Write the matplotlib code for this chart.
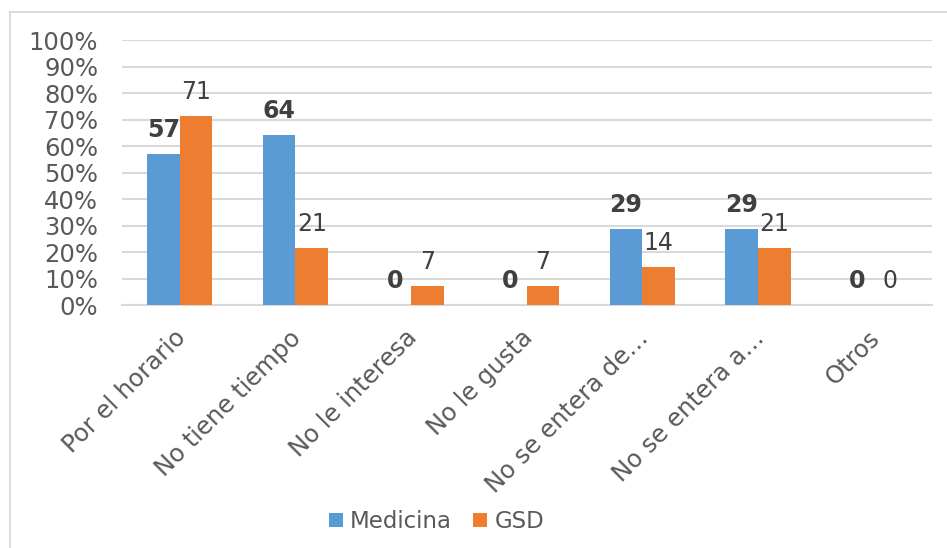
import matplotlib
matplotlib.use("Agg")
import matplotlib.pyplot as plt
import matplotlib.transforms as mtransforms
from matplotlib.lines import Line2D
import numpy as np

categories = ["Por el horario", "No tiene tiempo", "No le interesa", "No le gusta",
              "No se entera de…", "No se entera a…", "Otros"]
medicina = [57.14, 64.29, 0, 0, 28.57, 28.57, 0]
gsd = [71.43, 21.43, 7.14, 7.14, 14.29, 21.43, 0]
series_names = ["Medicina", "GSD"]
yticks = [0, 10, 20, 30, 40, 50, 60, 70, 80, 90, 100]
ytick_labels = [f"{v}%" for v in yticks]

BLUE = "#5B9BD5"
ORANGE = "#ED7D31"
GRID = "#D9D9D9"
TICK = "#595959"
LABEL = "#404040"
FS = 17.5

plt.rcParams['font.family'] = ['DejaVu Sans']

fig = plt.figure(figsize=(9.47, 5.48), dpi=100)
ax = fig.add_axes([0.1286, 0.4434, 0.9838 - 0.1286, 0.927 - 0.4434])

x = np.arange(len(categories))
w = 0.283
b1 = ax.bar(x - w / 2, medicina, w, color=BLUE, label=series_names[0], zorder=3)
b2 = ax.bar(x + w / 2, gsd, w, color=ORANGE, label=series_names[1], zorder=3)

for rect, v in zip(b1, medicina):
    ax.annotate(f"{v:.0f}", (rect.get_x() + rect.get_width() / 2, rect.get_height()),
                xytext=(0, 12.2), textcoords="offset points", ha="center", va="baseline",
                fontsize=17, fontweight="bold", color=LABEL, zorder=4)
for rect, v in zip(b2, gsd):
    ax.annotate(f"{v:.0f}", (rect.get_x() + rect.get_width() / 2, rect.get_height()),
                xytext=(0, 12.2), textcoords="offset points", ha="center", va="baseline",
                fontsize=17, color=LABEL, zorder=4)

ax.set_xlim(-0.5, len(categories) - 0.5)
ax.set_ylim(0, 100)
ax.set_yticks(yticks)
ax.set_yticklabels(ytick_labels)
ax.yaxis.grid(True, color=GRID, linewidth=1.5, zorder=0)
ax.set_axisbelow(True)
for s in ["top", "right", "left"]:
    ax.spines[s].set_visible(False)
ax.spines["bottom"].set_color(GRID)
ax.spines["bottom"].set_linewidth(1.5)
ax.tick_params(axis="both", length=0, colors=TICK, labelsize=FS)
ax.tick_params(axis="y", pad=16.9)
ax.tick_params(axis="x", pad=21)

ax.set_xticks(x)
ax.set_xticklabels(categories, rotation=45, ha="right", va="center", rotation_mode="anchor")
offset = mtransforms.ScaledTranslation(2 / 100, 0, fig.dpi_scale_trans)
for lab in ax.get_xticklabels():
    lab.set_transform(lab.get_transform() + offset)

leg = fig.legend(handles=[b1, b2], labels=series_names, loc="center",
                 bbox_to_anchor=(0.461, 0.048), ncol=2, frameon=False, fontsize=16.5,
                 handlelength=0.61, handleheight=0.61, handletextpad=0.32,
                 columnspacing=0.92, borderpad=0)
for t in leg.get_texts():
    t.set_color(TICK)

# chart area border (top and left visible)
fig.add_artist(Line2D([10 / 947, 1.0], [1 - 11.7 / 548, 1 - 11.7 / 548],
                      transform=fig.transFigure, color=GRID, linewidth=1.3))
fig.add_artist(Line2D([10 / 947, 10 / 947], [0.0, 1 - 11.7 / 548],
                      transform=fig.transFigure, color=GRID, linewidth=1.3))

fig.savefig("out.png", dpi=100, facecolor="white")
